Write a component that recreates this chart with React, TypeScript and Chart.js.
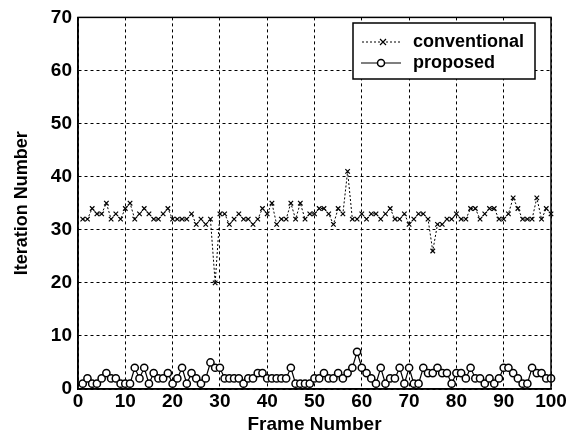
import React, { useEffect, useRef } from "react";
import { Chart, registerables } from "chart.js";

Chart.register(...registerables);

const frames = [
  1, 2, 3, 4, 5, 6, 7, 8, 9, 10, 11, 12, 13, 14, 15, 16, 17, 18, 19, 20,
  21, 22, 23, 24, 25, 26, 27, 28, 29, 30, 31, 32, 33, 34, 35, 36, 37, 38, 39, 40,
  41, 42, 43, 44, 45, 46, 47, 48, 49, 50, 51, 52, 53, 54, 55, 56, 57, 58, 59, 60,
  61, 62, 63, 64, 65, 66, 67, 68, 69, 70, 71, 72, 73, 74, 75, 76, 77, 78, 79, 80,
  81, 82, 83, 84, 85, 86, 87, 88, 89, 90, 91, 92, 93, 94, 95, 96, 97, 98, 99, 100,
];

const conventional = [
  32, 32, 34, 33, 33, 35, 32, 33, 32, 34, 35, 32, 33, 34, 33, 32, 32, 33, 34, 32,
  32, 32, 32, 33, 31, 32, 31, 32, 20, 33, 33, 31, 32, 33, 32, 32, 31, 32, 34, 33,
  35, 31, 32, 32, 35, 32, 35, 32, 33, 33, 34, 34, 33, 31, 34, 33, 41, 32, 32, 33,
  32, 33, 33, 32, 33, 34, 32, 32, 33, 31, 32, 33, 33, 32, 26, 31, 31, 32, 32, 33,
  32, 32, 34, 34, 32, 33, 34, 34, 32, 32, 33, 36, 34, 32, 32, 32, 36, 32, 34, 33,
];

const proposed = [
  1, 2, 1, 1, 2, 3, 2, 2, 1, 1, 1, 4, 2, 4, 1, 3, 2, 2, 3, 1,
  2, 4, 1, 3, 2, 1, 2, 5, 4, 4, 2, 2, 2, 2, 1, 2, 2, 3, 3, 2,
  2, 2, 2, 2, 4, 1, 1, 1, 1, 2, 2, 3, 2, 2, 3, 2, 3, 4, 7, 4,
  3, 2, 1, 4, 1, 2, 2, 4, 1, 4, 1, 1, 4, 3, 3, 4, 3, 3, 1, 3,
  3, 2, 4, 2, 2, 1, 2, 1, 2, 4, 4, 3, 2, 1, 1, 4, 3, 3, 2, 2,
];

const seriesNames = ["conventional", "proposed"];
const xTitle = "Frame Number";
const yTitle = "Iteration Number";
const xMin = 0, xMax = 100, xStep = 10;
const yMin = 0, yMax = 70, yStep = 10;

const FONT = '"Liberation Sans", Arial, Helvetica, sans-serif';

const overlayPlugin = {
  id: "overlay",
  afterDraw(chart: any) {
    const { ctx, chartArea: a } = chart;
    ctx.save();
    ctx.setLineDash([]);
    ctx.strokeStyle = "#000";
    ctx.lineWidth = 1.5;
    ctx.strokeRect(a.left, a.top, a.right - a.left, a.bottom - a.top);

    // y title
    ctx.save();
    ctx.translate(22, (a.top + a.bottom) / 2);
    ctx.rotate(-Math.PI / 2);
    ctx.font = `bold 18px ${FONT}`;
    ctx.fillStyle = "#000";
    ctx.textAlign = "center";
    ctx.textBaseline = "middle";
    ctx.fillText(yTitle, 0, 0);
    ctx.restore();

    // legend box
    const bx = 353, by = 23, bw = 182, bh = 56;
    ctx.fillStyle = "#fff";
    ctx.fillRect(bx, by, bw, bh);
    ctx.lineWidth = 1.5;
    ctx.strokeStyle = "#000";
    ctx.strokeRect(bx, by, bw, bh);

    ctx.font = `bold 18px ${FONT}`;
    ctx.fillStyle = "#000";
    ctx.textAlign = "left";
    ctx.textBaseline = "middle";

    // entry 1: conventional
    const y1 = 42;
    ctx.lineWidth = 1;
    ctx.setLineDash([2, 2]);
    ctx.beginPath();
    ctx.moveTo(362, y1);
    ctx.lineTo(402, y1);
    ctx.stroke();
    ctx.setLineDash([]);
    ctx.lineWidth = 1.2;
    ctx.beginPath();
    ctx.moveTo(380, y1 - 3);
    ctx.lineTo(386, y1 + 3);
    ctx.moveTo(386, y1 - 3);
    ctx.lineTo(380, y1 + 3);
    ctx.stroke();
    ctx.fillText(seriesNames[0], 413, y1);

    // entry 2: proposed
    const y2 = 63;
    ctx.lineWidth = 1.2;
    ctx.beginPath();
    ctx.moveTo(361, y2);
    ctx.lineTo(401, y2);
    ctx.stroke();
    ctx.beginPath();
    ctx.arc(381, y2, 3.5, 0, Math.PI * 2);
    ctx.fillStyle = "#fff";
    ctx.fill();
    ctx.lineWidth = 1.5;
    ctx.stroke();
    ctx.fillStyle = "#000";
    ctx.fillText(seriesNames[1], 413, y2);

    ctx.restore();
  },
};

export default function App() {
  const ref = useRef<HTMLCanvasElement | null>(null);

  useEffect(() => {
    if (!ref.current) return;
    const convData = frames.map((f, i) => ({ x: f, y: conventional[i] }));
    const propData = frames.map((f, i) => ({ x: f, y: proposed[i] }));

    const chart = new Chart(ref.current, {
      type: "line",
      data: {
        datasets: [
          {
            label: seriesNames[0],
            data: convData,
            borderColor: "#000",
            borderWidth: 1,
            borderDash: [2, 2],
            pointStyle: "crossRot",
            pointRadius: 3.2,
            pointBorderWidth: 1.2,
            pointBorderColor: "#000",
            pointBackgroundColor: "#000",
            tension: 0,
            clip: false,
          } as any,
          {
            label: seriesNames[1],
            data: propData,
            borderColor: "#000",
            borderWidth: 1.2,
            pointStyle: "circle",
            pointRadius: 3.6,
            pointBorderWidth: 1.5,
            pointBorderColor: "#000",
            pointBackgroundColor: "#fff",
            tension: 0,
            clip: false,
          } as any,
        ],
      },
      options: {
        animation: false,
        responsive: true,
        maintainAspectRatio: false,
        layout: { padding: { left: 0, top: 16, right: 30, bottom: 0 } },
        plugins: {
          legend: { display: false },
          tooltip: { enabled: false },
        },
        scales: {
          x: {
            type: "linear",
            min: xMin,
            max: xMax,
            ticks: {
              stepSize: xStep,
              color: "#000",
              font: { family: FONT, size: 19, weight: "bold" },
              padding: 1,
              maxRotation: 0,
            },
            grid: { color: "#000", lineWidth: 1, drawTicks: false },
            border: { display: true, color: "#000", width: 1.5, dash: [3, 3] },
            title: {
              display: true,
              text: xTitle,
              color: "#000",
              font: { family: FONT, size: 19, weight: "bold" },
              padding: { top: 0, bottom: 0 },
            },
            afterFit: (s: any) => {
              s.height = 47;
            },
          },
          y: {
            type: "linear",
            min: yMin,
            max: yMax,
            ticks: {
              stepSize: yStep,
              color: "#000",
              font: { family: FONT, size: 19, weight: "bold" },
              padding: 6,
            },
            grid: { color: "#000", lineWidth: 1, drawTicks: false },
            border: { display: true, color: "#000", width: 1.5, dash: [3, 3] },
            afterFit: (s: any) => {
              s.width = 78;
            },
          },
        },
      } as any,
      plugins: [overlayPlugin],
    });
    return () => chart.destroy();
  }, []);

  return (
    <div style={{ position: "absolute", left: 0, top: 0, width: 581, height: 436, background: "#fff" }}>
      <canvas ref={ref} />
    </div>
  );
}
